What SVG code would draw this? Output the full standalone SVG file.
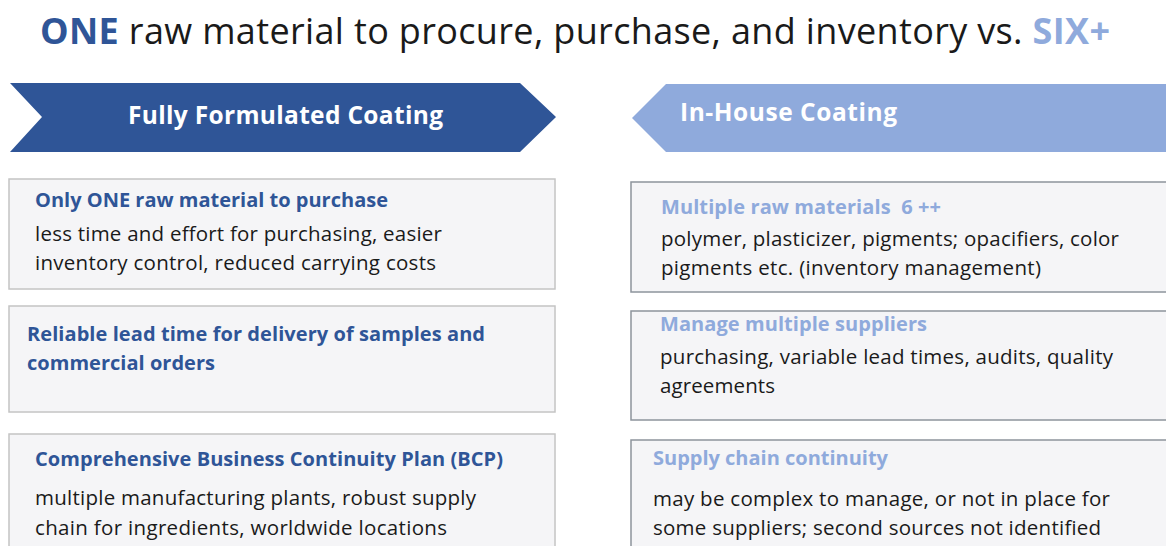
<svg xmlns="http://www.w3.org/2000/svg" width="1166" height="546" viewBox="0 0 1166 546">
<style>
text{font-family:"Open Sans","Liberation Sans",sans-serif}
.t{font-size:36px;fill:#1a1a1a}
.hd{font-size:24.5px;font-weight:bold;fill:#fff}
.bl{fill:#f5f5f7;stroke:#c4c4c4;stroke-width:1.5}
.br{fill:#f5f5f7;stroke:#8d949c;stroke-width:1.5}
.d{font-size:20px;font-weight:bold;fill:#2f5597}
.l{font-size:20px;font-weight:bold;fill:#8faadc}
.b{font-size:20.5px;fill:#1a1a1a}
</style>
<rect width="1166" height="546" fill="#fff"/>
<g id="title">
<text class="t" x="40" y="44" textLength="1070"><tspan font-weight="bold" fill="#2f5597">ONE</tspan> raw material to procure, purchase, and inventory vs. <tspan font-weight="bold" fill="#8faadc">SIX+</tspan></text>
</g>
<g id="fully-formulated">
<polygon points="10,83 520,83 556,117 520,152 10,152 42,117" fill="#2f5597"/>
<text class="hd" x="128" y="124" textLength="315">Fully Formulated Coating</text>
</g>
<g id="in-house">
<polygon points="666,84 1166,84 1166,152 666,152 632,118" fill="#8faadc"/>
<text class="hd" x="680" y="121" textLength="217">In-House Coating</text>
</g>
<g id="left1">
<rect class="bl" x="9" y="179" width="546" height="110"/>
<text class="d" x="35" y="207" textLength="353">Only ONE raw material to purchase</text>
<text class="b" x="35" y="241" textLength="407">less time and effort for purchasing, easier</text>
<text class="b" x="35" y="270" textLength="401">inventory control, reduced carrying costs</text>
</g>
<g id="left2">
<rect class="bl" x="9" y="306" width="546" height="106"/>
<text class="d" x="27" y="341" textLength="458">Reliable lead time for delivery of samples and</text>
<text class="d" x="27" y="370" textLength="188">commercial orders</text>
</g>
<g id="left3">
<rect class="bl" x="9" y="434" width="546" height="120"/>
<text class="d" x="35" y="466" textLength="468">Comprehensive Business Continuity Plan (BCP)</text>
<text class="b" x="35" y="505" textLength="441">multiple manufacturing plants, robust supply</text>
<text class="b" x="35" y="535" textLength="412">chain for ingredients, worldwide locations</text>
</g>
<g id="right1">
<rect class="br" x="631" y="182" width="545" height="110"/>
<text class="l" x="661" y="214" textLength="280">Multiple raw materials&#160; 6 ++</text>
<text class="b" x="661" y="246" textLength="458">polymer, plasticizer, pigments; opacifiers, color</text>
<text class="b" x="661" y="275" textLength="380">pigments etc. (inventory management)</text>
</g>
<g id="right2">
<rect class="br" x="631" y="311" width="545" height="109"/>
<text class="l" x="660" y="331" textLength="267">Manage multiple suppliers</text>
<text class="b" x="660" y="364" textLength="453">purchasing, variable lead times, audits, quality</text>
<text class="b" x="660" y="393" textLength="115">agreements</text>
</g>
<g id="right3">
<rect class="br" x="631" y="440" width="545" height="120"/>
<text class="l" x="653" y="465" textLength="235">Supply chain continuity</text>
<text class="b" x="653" y="506" textLength="457">may be complex to manage, or not in place for</text>
<text class="b" x="653" y="535" textLength="448">some suppliers; second sources not identified</text>
</g>
<g id="connectors"/>
</svg>
